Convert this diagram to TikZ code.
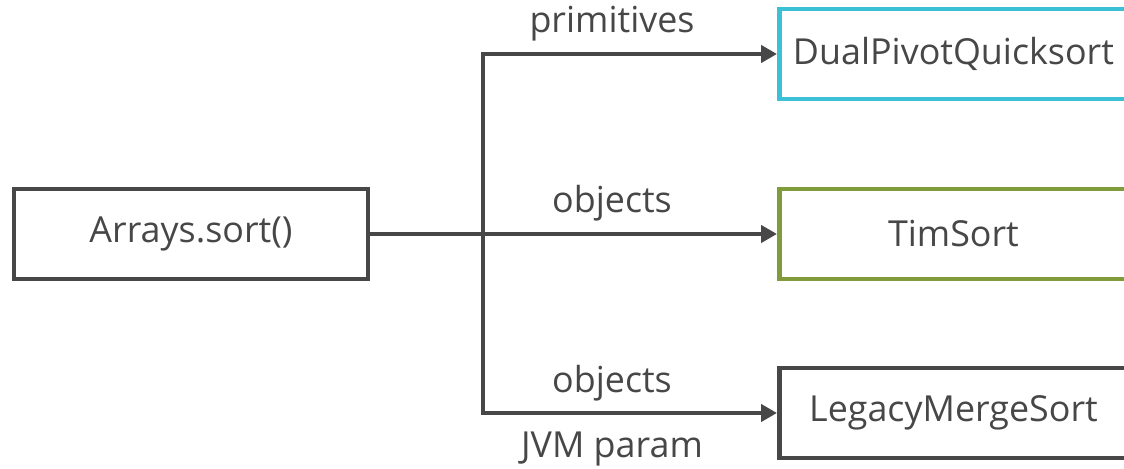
\documentclass[tikz,border=0pt]{standalone}
\usepackage{fontspec}
\setmainfont{Open Sans}
\usetikzlibrary{arrows.meta}
\definecolor{ink}{HTML}{474747}
\definecolor{cyanbox}{HTML}{3CC0D6}
\definecolor{olivebox}{HTML}{7F9B3A}
\tikzset{
  box/.style={draw=ink, line width=1.4pt, minimum height=0.9cm, text=ink, inner sep=0pt},
  algo/.style={box, minimum width=3.48cm, anchor=west},
  lbl/.style={text=ink, anchor=base, inner sep=0pt},
  link/.style={draw=ink, line width=1.4pt}
}
\begin{document}
\begin{tikzpicture}[font=\fontsize{10.2}{12}\selectfont, line join=miter, >={Triangle[length=4.5pt,width=4.8pt]}]
	\useasboundingbox (0,0) rectangle (11.24,4.68);
	\clip (0,0) rectangle (11.24,4.68);
	% boxes
	\node[box, minimum width=3.54cm] (arrays) at (1.91,2.34) {Arrays.sort()};
	\node[algo, draw=cyanbox] (dual) at (7.77,4.14) {DualPivotQuicksort};
	\node[algo, draw=olivebox] (tim) at (7.77,2.34) {TimSort};
	\node[algo] (legacy) at (7.77,0.55) {LegacyMergeSort};
	% trunk
	\coordinate (ttop) at (4.83,4.14);
	\coordinate (tbot) at (4.83,0.55);
	\draw[link,->] (tbot) -- (ttop) -- (dual.west);
	\draw[link,->] (ttop) |- (legacy.west);
	\draw[link,->] (arrays.east) -- (tim.west);
	% labels
	\node[lbl] (lprim) at (6.12,4.35) {primitives};
	\node[lbl] (lobj) at (6.12,2.55) {objects};
	\node[lbl] (lobjb) at (6.12,0.75) {objects};
	\node[lbl] (ljvm) at (6.12,0.11) {JVM param};
\end{tikzpicture}
\end{document}
